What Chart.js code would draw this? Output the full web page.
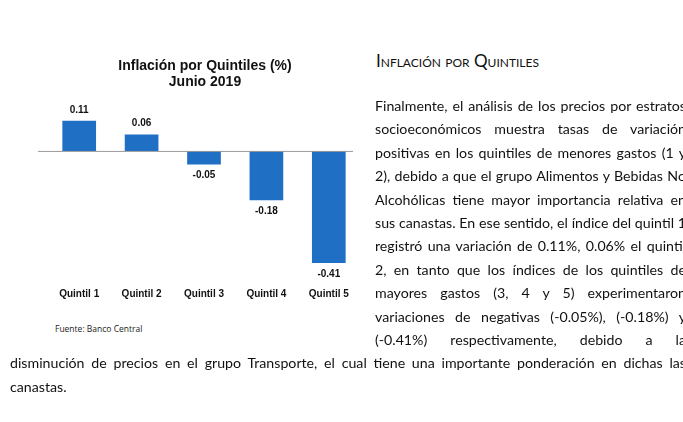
<!DOCTYPE html>
<html><head><meta charset="utf-8">
<script src="https://cdn.jsdelivr.net/npm/chart.js@4"></script>
<style>
body{margin:0;background:#fff;width:683px;height:422px;overflow:hidden;position:relative;font-family:Lato,sans-serif;}
#chartBox{position:absolute;left:10px;top:56px;width:350px;height:250px;}
#fuente{position:absolute;left:55px;top:323px;font-size:8.5px;font-family:"Open Sans",sans-serif;color:#222;}
#head{position:absolute;left:376px;top:50px;font-size:17px;color:#111;font-variant:small-caps;}
#txt{position:absolute;left:10px;top:94px;width:676px;font-size:14.2px;line-height:23.4px;color:#111;text-align:justify;}
#sp{float:left;width:365px;height:250px;}
</style></head><body>
<div id="chartBox"><canvas id="c"></canvas></div>
<div id="fuente">Fuente: Banco Central</div>
<div id="head">Inflación por Quintiles</div>
<div id="txt"><div id="sp"></div>Finalmente, el análisis de los precios por estratos socioeconómicos muestra tasas de variación positivas en los quintiles de menores gastos (1 y 2), debido a que el grupo Alimentos y Bebidas No Alcohólicas tiene mayor importancia relativa en sus canastas. En ese sentido, el índice del quintil 1 registró una variación de 0.11%, 0.06% el quintil 2, en tanto que los índices de los quintiles de mayores gastos (3, 4 y 5) experimentaron variaciones de negativas (-0.05%), (-0.18%) y (-0.41%) respectivamente, debido a la disminución de precios en el grupo Transporte, el cual tiene una importante ponderación en dichas las canastas.</div>
<script>
const categories=["Quintil 1","Quintil 2","Quintil 3","Quintil 4","Quintil 5"];
const values=[0.11,0.06,-0.05,-0.18,-0.41];
const extra={id:'extra',afterDatasetsDraw(ch){
 const c=ch.ctx,y=ch.scales.y,ar=ch.chartArea,z=y.getPixelForValue(0);
 c.save();c.strokeStyle='#999';c.lineWidth=1;c.beginPath();c.moveTo(ar.left-10,z+0.5);c.lineTo(ar.right-7,z+0.5);c.stroke();
 c.font='bold 10px "Liberation Sans",Arial';c.fillStyle='#111';c.textAlign='center';
 ch.getDatasetMeta(0).data.forEach((b,i)=>{const v=values[i];
  if(v>=0){c.textBaseline='bottom';c.fillText(v.toFixed(2),b.x,b.y-6);}
  else{c.textBaseline='top';c.fillText(v.toFixed(2),b.x,b.y+6);}});
 c.restore();}};
new Chart(document.getElementById('c'),{type:'bar',
 data:{labels:categories,datasets:[{data:values,backgroundColor:'#1f6fc5',barPercentage:0.54,categoryPercentage:1}]},
 options:{responsive:true,maintainAspectRatio:false,animation:false,
  layout:{padding:{left:38,right:-2,top:0,bottom:0}},
  plugins:{legend:{display:false},tooltip:{enabled:false},
   title:{display:true,text:['Inflación por Quintiles (%)','Junio 2019'],color:'#111',font:{family:'"Liberation Sans",Arial',size:14,weight:'bold',lineHeight:1.15},padding:{top:2,bottom:6}}},
  scales:{y:{display:false,min:-0.45,max:0.2},
   x:{grid:{display:false},border:{display:false},ticks:{color:'#111',padding:6,font:{family:'"Liberation Sans",Arial',size:10,weight:'bold'}}}}},
 plugins:[extra]});
</script></body></html>
